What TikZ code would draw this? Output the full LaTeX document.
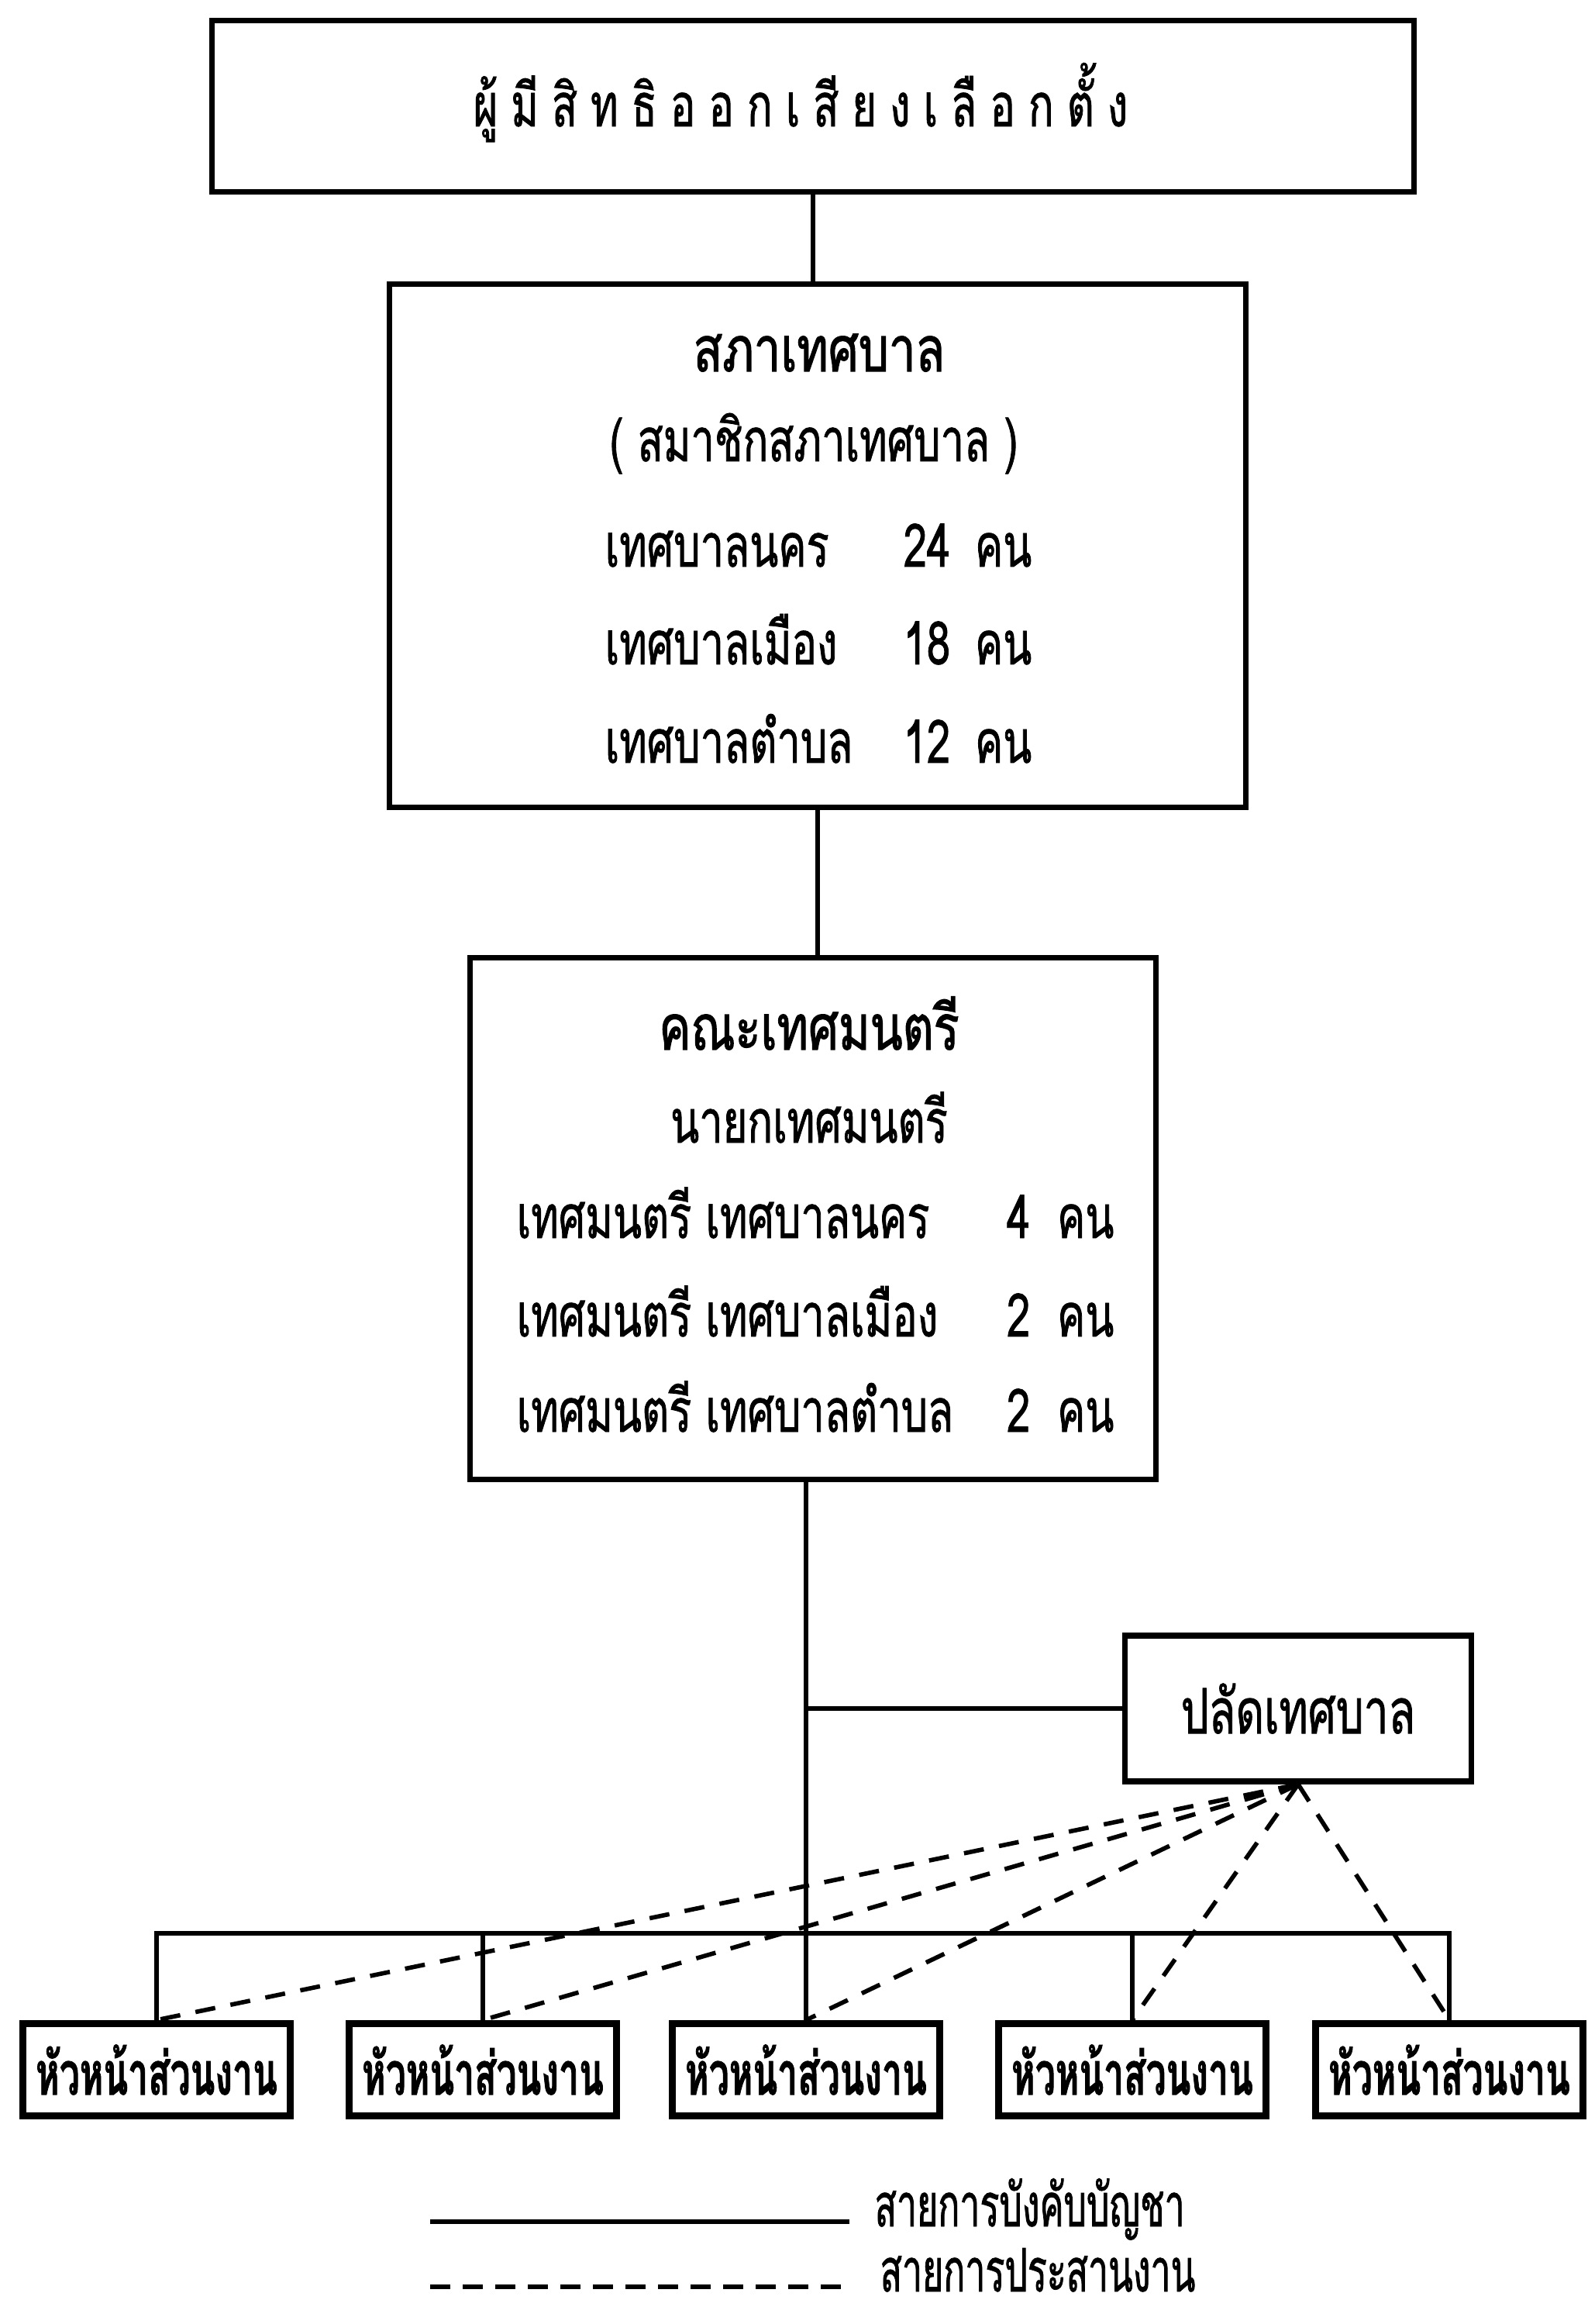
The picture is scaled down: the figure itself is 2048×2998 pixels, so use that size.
\documentclass[tikz,border=0pt]{standalone}
\usepackage{fontspec}
\newfontfamily\thaifont[Script=Thai,FakeStretch=0.70,FakeBold=1]{Loma}
\newfontfamily\thaititle[Script=Thai,FakeStretch=0.76,FakeBold=1.5]{Loma}
\newfontfamily\thainarrow[Script=Thai,FakeStretch=0.60,FakeBold=1]{Loma}
\newfontfamily\thaiwide[Script=Thai,FakeStretch=0.70,LetterSpace=22,FakeBold=1]{Loma}
\usetikzlibrary{positioning}
\newcommand\seatrow[4]{\makebox[#1][l]{#3}\llap{#4}\hspace{#2}คน}
\tikzset{
  panel/.style 2 args={draw, line width=2.1pt, minimum width=#1, minimum height=#2, inner sep=0pt},
  head/.style={draw, line width=2.6pt, minimum width=3.45cm, minimum height=1.19cm, inner sep=0pt,
    font=\thainarrow\bfseries\fontsize{22}{26}\selectfont},
  rowtext/.style={anchor=base, inner sep=0pt},
  title/.style={font=\thaititle\fontsize{23}{27}\selectfont},
  legend/.style={anchor=base west, inner sep=0pt, font=\thainarrow\fontsize{22}{26}\selectfont},
  command/.style={line width=1.8pt},
  liaison/.style={line width=1.6pt, dash pattern=on 0.26cm off 0.2cm}
}

\begin{document}
\begin{tikzpicture}[x=0.01cm,y=-0.01cm,font=\thaifont\fontsize{22}{26}\selectfont]
  \useasboundingbox (0,0) rectangle (2048,2998);

  \node[panel={15.5cm}{2.21cm}] (voters) at (1049,137) {};
  \node[rowtext,font=\thaiwide\fontsize{22}{26}\selectfont] (votersT) at (1033,163) {ผู้มีสิทธิออกเสียงเลือกตั้ง};

  \node[panel={11.04cm}{6.74cm}] (council) at (1055,704) {};
  \node[rowtext,title] (councilT) at (1057,479) {สภาเทศบาล};
  \node[rowtext] (members) at (1050,595) {( สมาชิกสภาเทศบาล )};
  \node[rowtext,anchor=base west] (cityM) at (780,731) {\seatrow{4.45cm}{0.32cm}{เทศบาลนคร}{24}};
  \node[rowtext,anchor=base west] (townM) at (780,857) {\seatrow{4.45cm}{0.32cm}{เทศบาลเมือง}{18}};
  \node[rowtext,anchor=base west] (subM) at (780,984) {\seatrow{4.45cm}{0.32cm}{เทศบาลตำบล}{12}};

  \node[panel={8.84cm}{6.73cm}] (cabinet) at (1049,1572) {};
  \node[rowtext,title] (cabinetT) at (1044,1354) {คณะเทศมนตรี};
  \node[rowtext] (mayor) at (1044,1474) {นายกเทศมนตรี};
  \node[rowtext,anchor=base west] (cityC) at (666,1597) {\seatrow{6.62cm}{0.35cm}{เทศมนตรี เทศบาลนคร}{4}};
  \node[rowtext,anchor=base west] (townC) at (666,1724) {\seatrow{6.62cm}{0.35cm}{เทศมนตรี เทศบาลเมือง}{2}};
  \node[rowtext,anchor=base west] (subC) at (666,1847) {\seatrow{6.62cm}{0.35cm}{เทศมนตรี เทศบาลตำบล}{2}};

  \node[panel={4.47cm}{1.88cm},font=\thaifont\fontsize{23}{27}\selectfont] (clerk) at (1675,2204) {ปลัดเทศบาล};
  \foreach \x [count=\i] in {202,623,1040,1461,1870}
    \node[head] (h\i) at (\x,2670) {หัวหน้าส่วนงาน};
  \coordinate (bar) at (1040,2494);

  \draw[command] (voters.south) -- (voters.south |- council.north);
  \draw[command] (council.south) -- (council.south |- cabinet.north);
  \draw[command] (h3.north |- cabinet.south) -- (h3.north);
  \draw[command] (h3.north |- clerk.west) -- (clerk.west);
  \draw[command] (h1.north) -- (h1.north |- bar) -- (h5.north |- bar) -- (h5.north);
  \draw[command] (h2.north) -- (h2.north |- bar);
  \draw[command] (h4.north) -- (h4.north |- bar);
  \foreach \h in {h1,h2,h3,h4,h5}
    \draw[liaison] (clerk.south) -- (\h.north);

  \coordinate (solidL) at (555,2866);
  \node[legend] (solidT) at (1128,2872) {สายการบังคับบัญชา};
  \draw[command,shorten >=0.32cm] (solidL) -- (solidL -| solidT.west);
  \coordinate (dashL) at (555,2950);
  \node[legend] (dashT) at (1135,2956) {สายการประสานงาน};
  \draw[liaison,dash pattern=on 0.26cm off 0.16cm,shorten >=0.39cm] (dashL) -- (dashL -| dashT.west);
\end{tikzpicture}
\end{document}
